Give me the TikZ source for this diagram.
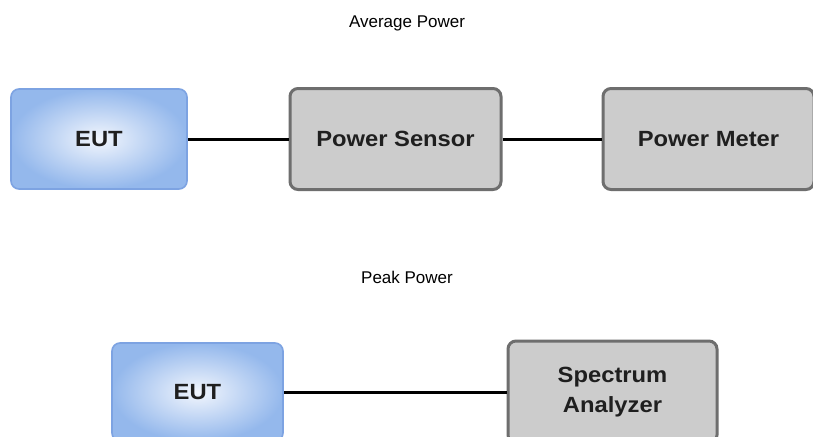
\documentclass[tikz,border=0pt]{standalone}
\usepackage{fontspec}
\setmainfont{Liberation Sans}
\newfontfamily\boxfont[FakeStretch=1.08]{Liberation Sans}
\usetikzlibrary{shadings}
\definecolor{boxgray}{RGB}{204,204,204}
\definecolor{boxedge}{RGB}{110,110,110}
\definecolor{eutedge}{RGB}{125,163,226}
\definecolor{eutout}{RGB}{148,184,236}
\definecolor{eutin}{RGB}{242,246,253}
\tikzset{
  unit/.style={draw=boxedge, line width=3pt, fill=boxgray, rounded corners=8pt,
    font=\boxfont\fontsize{22}{30}\selectfont\bfseries, text=black!88, align=center,
    inner sep=0pt},
  eut/.style={draw=eutedge, line width=1.6pt, inner color=eutin, outer color=eutout,
    rounded corners=8pt, font=\boxfont\fontsize{22}{30}\selectfont\bfseries,
    text=black!88, inner sep=0pt},
  wire/.style={line width=3pt, black},
  caption/.style={font=\fontsize{17}{20}\selectfont, text=black}
}
\begin{document}
\begin{tikzpicture}[x=1pt, y=-1pt]
  \useasboundingbox (0,0) rectangle (813,436);
  \clip (0,0) rectangle (813,436);
  \fill[white] (0,0) rectangle (813,436);

  % average power chain
  \node[caption] (avg) at (407,23) {Average Power};
  \node[eut, minimum width=176pt, minimum height=100pt] (eut1) at (99,139) {EUT};
  \node[unit, minimum width=211pt, minimum height=101pt] (sensor) at (395.5,139) {Power Sensor};
  \node[unit, minimum width=211pt, minimum height=101pt] (meter) at (708.5,139) {Power Meter};
  \draw[wire] (eut1.east) -- (sensor.west);
  \draw[wire] (sensor.east) -- (meter.west);

  % peak power chain
  \node[caption] (peak) at (407,277) {Peak Power};
  \node[eut, minimum width=171pt, minimum height=98pt] (eut2) at (197.5,392) {EUT};
  \node[unit, minimum width=209pt, minimum height=102pt] (analyzer) at (612.5,392)
    {Spectrum\\Analyzer};
  \draw[wire] (eut2.east) -- (analyzer.west);
\end{tikzpicture}
\end{document}
